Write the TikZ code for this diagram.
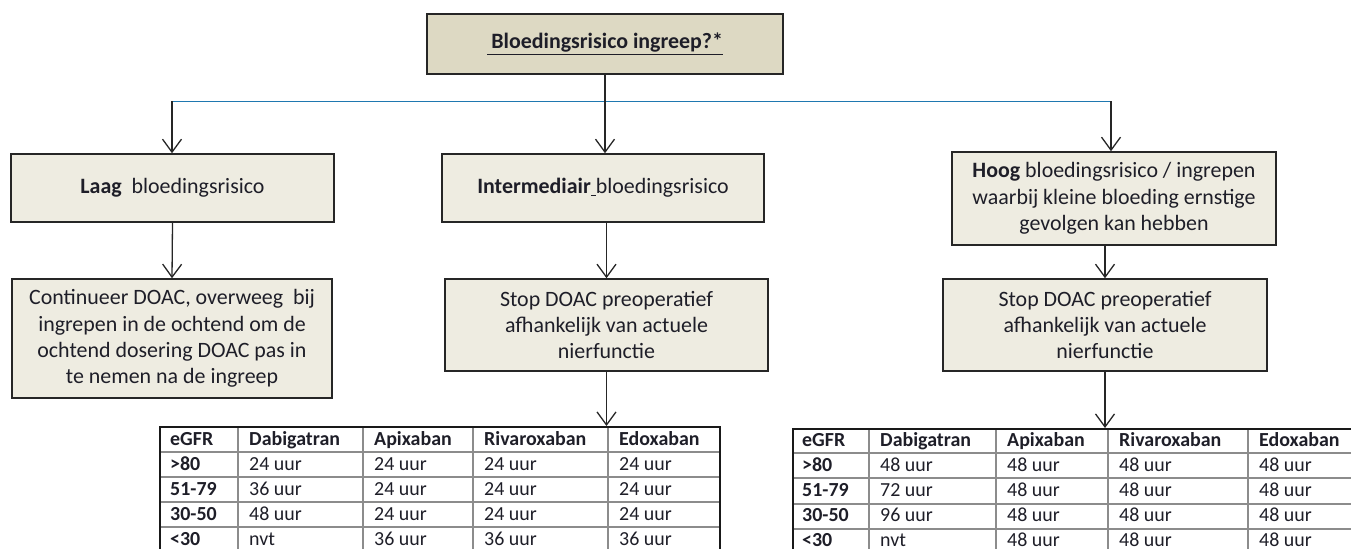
\documentclass[tikz,border=0pt]{standalone}
\usepackage{fontspec}
\setmainfont{Carlito}
\usetikzlibrary{arrows.meta}
\definecolor{boxfill}{HTML}{EEECE1}
\definecolor{topfill}{HTML}{DDD9C3}
\definecolor{boxline}{HTML}{262626}
\definecolor{txt}{HTML}{1E1E28}
\definecolor{linkblue}{HTML}{1F78B0}
\definecolor{gridcol}{HTML}{8C8C8C}
\begin{document}
\begin{tikzpicture}[x=1bp,y=-1bp,
  box/.style={draw=boxline, line width=1.5bp, fill=boxfill, align=center,
    inner sep=0pt, text=txt, font=\fontsize{22}{26.5}\selectfont},
  link/.style={draw=black!85, line width=1.3bp,
    -{Straight Barb[length=13bp,width=19bp,line width=1.3bp]}},
  bar/.style={draw=linkblue, line width=1.6bp},
  tabframe/.style={draw=black!90, line width=1.5bp, inner sep=0pt, anchor=north west},
  gridline/.style={draw=gridcol, line width=1.2bp},
  cell/.style={anchor=base west, inner sep=0pt, text=txt, font=\fontsize{20}{23}\selectfont},
  headcell/.style={cell, font=\fontsize{20}{23}\selectfont\bfseries}
]
\useasboundingbox (0,0) rectangle (1351,549);
\clip (0,0) rectangle (1351,549);

% decision boxes
\node[box, fill=topfill, minimum width=356bp, minimum height=60bp] (top) at (605,44)
  {\bfseries\underline{\hspace{0.2em}Bloedingsrisico ingreep?*}};
\node[box, minimum width=323bp, minimum height=68bp] (laag) at (172.5,188)
  {\textbf{Laag}\ \ bloedingsrisico};
\node[box, minimum width=322bp, minimum height=68bp] (inter) at (603,188)
  {\textbf{Intermediair}\underline{\hspace{0.23em}}bloedingsrisico};
\node[box, minimum width=324bp, minimum height=93bp] (hoog) at (1114,198.5)
  {\textbf{Hoog} bloedingsrisico / ingrepen\\waarbij kleine bloeding ernstige\\gevolgen kan hebben};
\node[box, minimum width=320bp, minimum height=119bp] (cont) at (172,338.5)
  {Continueer DOAC, overweeg\ \ bij\\ingrepen in de ochtend om de\\ochtend dosering DOAC pas in\\te nemen na de ingreep};
\node[box, minimum width=323bp, minimum height=92bp] (stopA) at (606.5,325)
  {Stop DOAC preoperatief\\afhankelijk van actuele\\nierfunctie};
\node[box, minimum width=324bp, minimum height=92bp] (stopB) at (1105,325)
  {Stop DOAC preoperatief\\afhankelijk van actuele\\nierfunctie};

% table frames
\node[tabframe, minimum width=560bp, minimum height=140bp] (tabA) at (159,426) {};
\node[tabframe, minimum width=580bp, minimum height=140bp] (tabB) at (792,428) {};

% branching connectors
\coordinate (jL) at (172,101.5);
\coordinate (jR) at (1111,101.5);
\draw[bar] (jL) -- (jR);
\draw[link] (top.south) -- (top.south |- inter.north);
\draw[link] (jL) -- (jL |- laag.north);
\draw[link] (jR) -- (jR |- hoog.north);
\draw[link] (laag.south) -- (cont.north);
\draw[link] (stopA.north |- inter.south) -- (stopA.north);
\draw[link] (stopB.north |- hoog.south) -- (stopB.north);
\draw[link] (stopA.south) -- (stopA.south |- tabA.north);
\draw[link] (stopB.south) -- (stopB.south |- tabB.north);

% table A grid
\foreach \x in {238,363,473,608} \draw[gridline] (\x,426) -- (\x,560);
\foreach \y in {452,477,502,527} \draw[gridline] (159,\y) -- (719,\y);
\node[tabframe, minimum width=560bp, minimum height=140bp] at (159,426) {};
% table B grid
\foreach \x in {869,996,1108,1248} \draw[gridline] (\x,428) -- (\x,560);
\foreach \y in {453,478,504,529} \draw[gridline] (792,\y) -- (1372,\y);
\node[tabframe, minimum width=580bp, minimum height=140bp] at (792,428) {};

% table A text
\foreach [count=\c from 0] \h/\x in {eGFR/170,Dabigatran/249,Apixaban/374,Rivaroxaban/484,Edoxaban/619}
  \node[headcell] (a-h\c) at (\x,445) {\h};
\foreach [count=\i] \g/\da/\ap/\ri/\ed in
  {>80/24 uur/24 uur/24 uur/24 uur, 51-79/36 uur/24 uur/24 uur/24 uur,
   30-50/48 uur/24 uur/24 uur/24 uur, <30/nvt/36 uur/36 uur/36 uur} {
  \pgfmathsetmacro{\yb}{445+25.2*\i}
  \node[headcell] (a-\i-0) at (170,\yb) {\g};
  \node[cell] (a-\i-1) at (249,\yb) {\da};
  \node[cell] (a-\i-2) at (374,\yb) {\ap};
  \node[cell] (a-\i-3) at (484,\yb) {\ri};
  \node[cell] (a-\i-4) at (619,\yb) {\ed};
}

% table B text
\foreach [count=\c from 0] \h/\x in {eGFR/802,Dabigatran/880,Apixaban/1007,Rivaroxaban/1119,Edoxaban/1259}
  \node[headcell] (b-h\c) at (\x,446) {\h};
\foreach [count=\i] \g/\da/\ap/\ri/\ed in
  {>80/48 uur/48 uur/48 uur/48 uur, 51-79/72 uur/48 uur/48 uur/48 uur,
   30-50/96 uur/48 uur/48 uur/48 uur, <30/nvt/48 uur/48 uur/48 uur} {
  \pgfmathsetmacro{\yb}{446+25.2*\i}
  \node[headcell] (b-\i-0) at (802,\yb) {\g};
  \node[cell] (b-\i-1) at (880,\yb) {\da};
  \node[cell] (b-\i-2) at (1007,\yb) {\ap};
  \node[cell] (b-\i-3) at (1119,\yb) {\ri};
  \node[cell] (b-\i-4) at (1259,\yb) {\ed};
}
\end{tikzpicture}
\end{document}
